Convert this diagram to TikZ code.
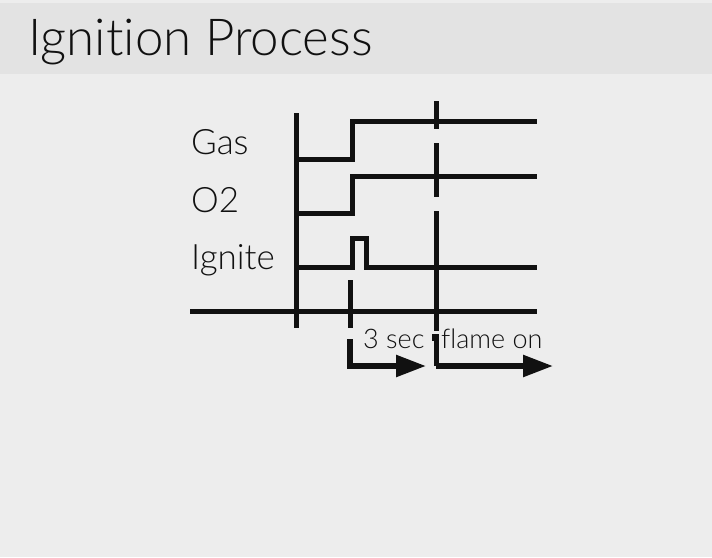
\documentclass[tikz,border=0pt]{standalone}
\usepackage{fontspec}
\newfontfamily\lightfont{Lato Light}[Ligatures={NoCommon,NoRare,NoDiscretionary}]
\usetikzlibrary{arrows.meta}
\definecolor{bgc}{HTML}{EDEDED}
\definecolor{hdr}{HTML}{E3E3E3}
\definecolor{ink}{HTML}{111111}
\tikzset{
  sig/.style={draw=ink, line width=5pt, line join=miter, line cap=butt},
  tlabel/.style={anchor=base west, inner sep=0pt, text=ink, font=\lightfont\fontsize{35}{35}\selectfont},
  slabel/.style={anchor=base west, inner sep=0pt, text=ink, font=\lightfont\fontsize{27}{27}\selectfont},
  arr/.style={draw=ink, line width=5.5pt, line join=miter, -{Triangle[length=30pt,width=21pt]}}
}
\begin{document}
\begin{tikzpicture}[x=1pt,y=-1pt]
\useasboundingbox (0,0) rectangle (712,557);
\fill[bgc] (0,0) rectangle (712,557);
\fill[hdr] (0,3) rectangle (712,74);
\node[anchor=base west, inner sep=0pt, text=ink, font=\lightfont\fontsize{51}{51}\selectfont] (title) at (28,55) {Ignition Process};
% labels
\node[tlabel] (gas) at (191,154) {Gas};
\node[tlabel] (o2) at (191,212) {O2};
\node[tlabel] (ign) at (191,269) {Ignite};
\node[slabel] (three) at (363,348) {3 sec};
\node[slabel] (flame) at (441,348) {flame on};
% signals
\draw[sig] (294,159) -- (352,159) -- (352,121) -- (537,121);
\draw[sig] (294,213) -- (352,213) -- (352,176) -- (537,176);
\draw[sig] (294,267) -- (352,267) -- (352,238) -- (366,238) -- (366,267) -- (537,267);
% time axis
\draw[sig] (190,311) -- (537,311);
\draw[sig] (296,113) -- (296,328);
% dashed markers
\draw[sig] (436,101) -- (436,129);
\draw[sig] (436,143) -- (436,197);
\draw[sig] (436,211) -- (436,331);
\draw[sig] (436,334) -- (436,366);
\fill[ink] (432,334) rectangle (436,341);
\draw[sig] (350,280) -- (350,328);
% arrows
\draw[arr] (350,339) -- (350,366) -- (426,366);
\draw[arr] (436,366) -- (553,366);
\end{tikzpicture}
\end{document}
